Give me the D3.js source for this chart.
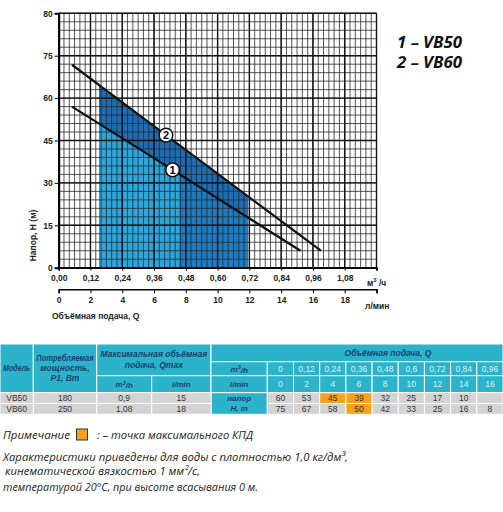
<!DOCTYPE html>
<html>
<head>
<meta charset="utf-8">
<script src="https://cdn.jsdelivr.net/npm/d3@7"></script>
<style>
  body { margin: 0; background: #fff; }
  svg { display: block; }
  .ax text { font-family: "Liberation Sans", Arial, sans-serif; font-weight: bold; fill: #222; }
  .it { font-family: "Open Sans", "Liberation Sans", sans-serif; font-style: italic; }
  .hd { font-family: "Liberation Sans", Arial, sans-serif; font-style: italic; font-weight: bold; }
</style>
</head>
<body>
<svg id="chart" width="503" height="512"></svg>
<script>
// pump curves (Q in m3/h, H in m)
var qVB50 = [0.05, 0.43, 0.913];
var hVB50 = [57, 34.6, 6];
var qVB60 = [0.05, 0.405, 0.99];
var hVB60 = [71.8, 46.9, 6];

// shaded working zones (Q bounds)
var zoneLight = [0.152, 0.455];
var zoneDark = [0.152, 0.715];

// badge positions on the curves
var badgeNames = ['2', '1'];
var badgeQ = [0.405, 0.43];

// axes
var yTickValues = [0, 15, 30, 45, 60, 75, 90];
var yTickLabels = ['0', '15', '30', '45', '60', '75', '80'];
var qTicks = [0, 0.12, 0.24, 0.36, 0.48, 0.60, 0.72, 0.84, 0.96, 1.08];
var lpmTicks = [0, 2, 4, 6, 8, 10, 12, 14, 16, 18];

var legendLines = ['1 – VB50', '2 – VB60'];

// table
var models = ['VB50', 'VB60'];
var power = ['180', '250'];
var qmaxM3 = ['0,9', '1,08'];
var qmaxL = ['15', '18'];
var flowM3 = ['0', '0,12', '0,24', '0,36', '0,48', '0,6', '0,72', '0,84', '0,96'];
var flowL = ['0', '2', '4', '6', '8', '10', '12', '14', '16'];
var headVB50 = ['60', '53', '45', '39', '32', '25', '17', '10', ''];
var headVB60 = ['75', '67', '58', '50', '42', '33', '25', '16', '8'];
var bestVB50 = [2, 3];
var bestVB60 = [3];

var noteLines = [
  'Характеристики приведены для воды с плотностью 1,0 кг/дм³,',
  'кинематической вязкостью 1 мм²/с,',
  'температурой 20°C, при высоте всасывания 0 м.'
];

var svg = d3.select('#chart');

var x = d3.scaleLinear().domain([0, 1.2]).range([58.7, 376.5]);
var xl = d3.scaleLinear().domain([0, 20]).range([58.7, 376.5]);
var y = d3.scaleLinear().domain([0, 90]).range([267.7, 13.3]);

function lerp(qs, hs, q) {
  for (var i = 0; i < qs.length - 1; i++) {
    if (q <= qs[i + 1] || i == qs.length - 2) {
      var t = (q - qs[i]) / (qs[i + 1] - qs[i]);
      return hs[i] + t * (hs[i + 1] - hs[i]);
    }
  }
}

// zones
function zone(q0, q1, qs, hs) {
  var pts = [[q0, 0], [q0, lerp(qs, hs, q0)]];
  qs.forEach(function (q, i) { if (q > q0 && q < q1) pts.push([q, hs[i]]); });
  pts.push([q1, lerp(qs, hs, q1)], [q1, 0]);
  return pts;
}
var area = d3.line().x(function (d) { return x(d[0]); }).y(function (d) { return y(d[1]); });

svg.append('path').attr('d', area(zone(zoneDark[0], zoneDark[1], qVB60, hVB60)) + 'Z').attr('fill', '#1a6db6');
svg.append('path').attr('d', area(zone(zoneLight[1], zoneDark[1], qVB50, hVB50)) + 'Z').attr('fill', '#1b7cc4');
svg.append('path').attr('d', area(zone(zoneLight[0], zoneLight[1], qVB50, hVB50)) + 'Z').attr('fill', '#2aa7de');

// grid
var grid = svg.append('g');
d3.range(0, 1.2001, 0.02).forEach(function (q) {
  grid.append('line').attr('x1', x(q)).attr('x2', x(q)).attr('y1', y(0)).attr('y2', y(90))
    .attr('stroke', '#2a2a2a').attr('stroke-width', 0.8);
});
d3.range(0, 90.1, 3).forEach(function (h) {
  grid.append('line').attr('x1', x(0)).attr('x2', x(1.2)).attr('y1', y(h)).attr('y2', y(h))
    .attr('stroke', '#2a2a2a').attr('stroke-width', 0.8);
});
qTicks.concat([1.2]).forEach(function (q) {
  grid.append('line').attr('x1', x(q)).attr('x2', x(q)).attr('y1', y(0)).attr('y2', y(90))
    .attr('stroke', '#111').attr('stroke-width', 1.4);
});
yTickValues.forEach(function (h) {
  grid.append('line').attr('x1', x(0)).attr('x2', x(1.2)).attr('y1', y(h)).attr('y2', y(h))
    .attr('stroke', '#111').attr('stroke-width', 1.4);
});

// axes
var yAxis = d3.axisLeft(y).tickValues(yTickValues).tickSize(4).tickPadding(2)
  .tickFormat(function (d, i) { return yTickLabels[i]; });
svg.append('g').attr('class', 'ax').attr('transform', 'translate(' + x(0) + ',0)').call(yAxis)
  .call(function (g) { g.select('.domain').attr('stroke-width', 2); g.selectAll('text').attr('font-size', 8.5); });

var xAxis = d3.axisBottom(x).tickValues(qTicks.concat([1.2])).tickSize(3).tickPadding(4)
  .tickFormat(function (d) { return d == 1.2 ? '' : d3.format('.2f')(d).replace('.', ','); });
svg.append('g').attr('class', 'ax').attr('transform', 'translate(0,' + y(0) + ')').call(xAxis)
  .call(function (g) { g.select('.domain').attr('stroke-width', 1.6); g.selectAll('text').attr('font-size', 8.5); });

var lAxis = d3.axisBottom(xl).tickValues(lpmTicks.concat([20])).tickSize(4).tickPadding(4)
  .tickFormat(function (d) { return d == 20 ? '' : d; });
svg.append('g').attr('class', 'ax').attr('transform', 'translate(0,289.3)').call(lAxis)
  .call(function (g) { g.select('.domain').attr('stroke-width', 1.6); g.selectAll('text').attr('font-size', 8.5); });

var ax = svg.append('g').attr('class', 'ax');
ax.append('text').attr('x', 367).attr('y', 286).attr('font-size', 8.5).text('м')
  .append('tspan').attr('dy', -4).attr('font-size', 6).text('3');
ax.append('text').attr('x', 379).attr('y', 286).attr('font-size', 8.5).text('/ч');
ax.append('text').attr('x', 365).attr('y', 309).attr('font-size', 8.5).text('л/мин');
ax.append('text').attr('x', 52).attr('y', 319).attr('font-size', 8.5).text('Объёмная подача, Q');
ax.append('text').attr('transform', 'translate(36,235.5) rotate(-90)').attr('text-anchor', 'middle')
  .attr('font-size', 8.5).text('Напор, H (м)');

// curves
var line = d3.line().x(function (d) { return x(d[0]); }).y(function (d, i) { return y(d[1]); });
[[qVB50, hVB50], [qVB60, hVB60]].forEach(function (c) {
  svg.append('path').attr('d', line(c[0].map(function (q, i) { return [q, c[1][i]]; })))
    .attr('fill', 'none').attr('stroke', '#111').attr('stroke-width', 2.2);
});

// badges
var badge = svg.selectAll('.badge').data(badgeNames).enter().append('g')
  .attr('transform', function (d, i) {
    var c = d == '1' ? [qVB50, hVB50] : [qVB60, hVB60];
    return 'translate(' + x(badgeQ[i]) + ',' + y(lerp(c[0], c[1], badgeQ[i])) + ')';
  });
badge.append('circle').attr('r', 6.8).attr('fill', '#fff').attr('stroke', '#111').attr('stroke-width', 1.5);
badge.append('text').attr('text-anchor', 'middle').attr('dy', '0.36em')
  .attr('font-family', 'Liberation Sans, Arial, sans-serif').attr('font-weight', 'bold').attr('font-size', 11)
  .text(function (d) { return d; });

// legend
svg.selectAll('.leg').data(legendLines).enter().append('text')
  .attr('class', 'it').attr('x', 397).attr('y', function (d, i) { return 48 + i * 20; })
  .attr('font-size', 16).attr('font-weight', 'bold').attr('fill', '#111')
  .attr('textLength', 65).attr('lengthAdjust', 'spacingAndGlyphs').text(function (d) { return d; });

// table
var cyan = '#2bb3cb', grey = '#d3d3d3', orange = '#f5a21c', navy = '#1c3f6e';
var colX = [0, 33.3, 96.7, 151.7, 211, 267.3];
var qColW = (503 - 267.3) / flowM3.length;
flowM3.forEach(function (f, i) { colX.push(267.3 + (i + 1) * qColW); });
var rowY = [344, 361.7, 375.7, 392.7, 403.5, 414.3];

var tbl = svg.append('g');
function cell(c0, c1, r0, r1, fill, lines, opts) {
  opts = opts || {};
  var x0 = colX[c0], x1 = colX[c1], y0 = rowY[r0], y1 = rowY[r1];
  tbl.append('rect').attr('x', x0).attr('y', y0).attr('width', x1 - x0).attr('height', y1 - y0)
    .attr('fill', fill).attr('stroke', '#fff').attr('stroke-width', 1);
  var lh = opts.lh || 10;
  var cx = opts.cx != null ? opts.cx : (x0 + x1) / 2;
  var cy = (y0 + y1) / 2 - (lines.length - 1) * lh / 2;
  lines.forEach(function (t, k) {
    var tx = tbl.append('text').attr('x', cx).attr('y', cy + k * lh).attr('dy', '0.35em')
      .attr('text-anchor', 'middle').attr('font-size', opts.fs || 8.5);
    if (opts.head) {
      tx.attr('class', 'hd').attr('fill', opts.color || navy);
    } else {
      tx.attr('font-family', 'Liberation Sans, Arial, sans-serif').attr('fill', opts.color || '#333');
    }
    if (t.indexOf('³') >= 0) {
      var p = t.split('³');
      tx.text(p[0]);
      tx.append('tspan').attr('dy', '-0.4em').attr('font-size', 5.5).text('3');
      tx.append('tspan').attr('dy', '0.4em').text(p[1]);
    } else {
      tx.text(t);
      var maxW = (x1 - x0) - 6;
      if (tx.node().getComputedTextLength() > maxW) {
        tx.attr('textLength', maxW).attr('lengthAdjust', 'spacingAndGlyphs');
      }
    }
  });
}

cell(0, 1, 0, 3, cyan, ['Модель'], { head: true, fs: 8.5 });
cell(1, 2, 0, 3, cyan, ['Потребляемая', 'мощность,', 'P1, Вт'], { head: true, fs: 8.5, lh: 10 });
cell(2, 4, 0, 2, cyan, ['Максимальная объёмная', 'подача, Qmax'], { head: true, fs: 8.5, lh: 11 });
cell(2, 3, 2, 3, cyan, ['m³/h'], { head: true, fs: 8 });
cell(3, 4, 2, 3, cyan, ['l/min'], { head: true, fs: 8 });
cell(4, colX.length - 1, 0, 1, cyan, ['Объёмная подача, Q'], { head: true, fs: 8.5, cx: 388 });
cell(4, 5, 1, 2, cyan, ['m³/h'], { head: true, fs: 8 });
cell(4, 5, 2, 3, cyan, ['l/min'], { head: true, fs: 8 });
cell(4, 5, 3, 5, cyan, ['напор', 'H, m'], { head: true, fs: 8, lh: 10 });
flowM3.forEach(function (f, i) {
  cell(5 + i, 6 + i, 1, 2, cyan, [f], { fs: 8.5, color: '#dff1f4' });
  cell(5 + i, 6 + i, 2, 3, cyan, [flowL[i]], { fs: 8.5, color: '#dff1f4' });
});
[[power, 1], [qmaxM3, 2], [qmaxL, 3]].forEach(function (c) {
  c[0].forEach(function (v, r) { cell(c[1], c[1] + 1, 3 + r, 4 + r, grey, [v]); });
});
models.forEach(function (m, r) { cell(0, 1, 3 + r, 4 + r, grey, [m]); });
headVB50.forEach(function (v, i) {
  cell(5 + i, 6 + i, 3, 4, bestVB50.indexOf(i) >= 0 ? orange : grey, [v]);
});
headVB60.forEach(function (v, i) {
  cell(5 + i, 6 + i, 4, 5, bestVB60.indexOf(i) >= 0 ? orange : grey, [v]);
});

// notes
var note = svg.append('g').attr('class', 'it').attr('fill', '#222');
note.append('text').attr('x', 3).attr('y', 439).attr('font-size', 11.5).text('Примечание');
note.append('rect').attr('x', 76.5).attr('y', 429).attr('width', 11).attr('height', 11)
  .attr('fill', orange).attr('stroke', '#333').attr('stroke-width', 1);
note.append('text').attr('x', 97).attr('y', 439).attr('font-size', 11.5)
  .attr('textLength', 156).attr('lengthAdjust', 'spacingAndGlyphs').text(':  – точка максимального КПД');
var noteW = [345, 195, 255];
var noteX = [3, 5, 3];
var noteY = [460.5, 475, 491];
noteLines.forEach(function (t, i) {
  note.append('text').attr('x', noteX[i]).attr('y', noteY[i]).attr('font-size', 11.5)
    .attr('textLength', noteW[i]).attr('lengthAdjust', 'spacingAndGlyphs').text(t);
});
</script>
</body>
</html>
